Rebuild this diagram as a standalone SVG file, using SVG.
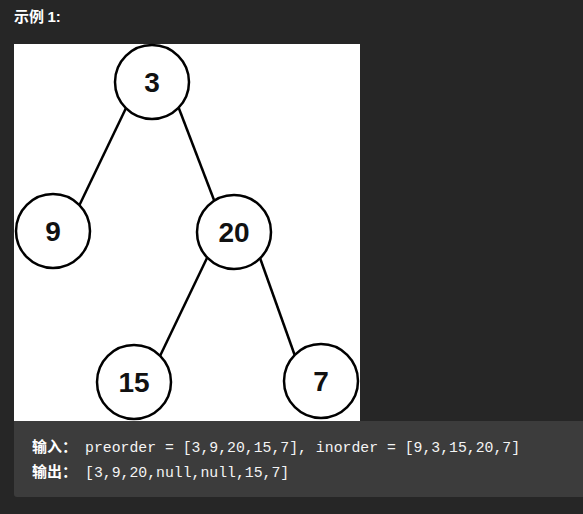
<svg xmlns="http://www.w3.org/2000/svg" width="583" height="514" viewBox="0 0 583 514">
<style>
.edge{stroke:#000;stroke-width:2.5;fill:none}
.node circle{fill:#fff;stroke:#000;stroke-width:2.5}
.node text{font-family:"Liberation Sans",Arial,sans-serif;font-weight:bold;font-size:28px;fill:#111;text-anchor:middle}
.code{font-family:"Liberation Mono","DejaVu Sans Mono",monospace;font-size:14.8px;fill:#f4f4f4}
.lbl{font-family:"Noto Sans CJK SC",sans-serif;font-weight:bold;font-size:15px;fill:#fff}
</style>
<rect width="583" height="514" fill="#262626"/>
<text x="14" y="22" class="lbl" font-size="15">示例 <tspan font-family="Liberation Sans, sans-serif">1:</tspan></text>
<rect x="14" y="44" width="346" height="377" fill="#fff"/>
<g id="connectors">
<line class="edge" x1="127" y1="106" x2="79" y2="206"/>
<line class="edge" x1="178" y1="106" x2="214" y2="200"/>
<line class="edge" x1="207" y1="258" x2="160" y2="356"/>
<line class="edge" x1="260" y1="258" x2="295" y2="356"/>
</g>
<g id="n3" class="node"><circle cx="152" cy="82" r="37"/><text x="152" y="92">3</text></g>
<g id="n9" class="node"><circle cx="53" cy="231" r="37"/><text x="53" y="241">9</text></g>
<g id="n20" class="node"><circle cx="234" cy="232" r="37"/><text x="234" y="242">20</text></g>
<g id="n15" class="node"><circle cx="134" cy="382" r="37"/><text x="134" y="392">15</text></g>
<g id="n7" class="node"><circle cx="321" cy="381" r="37"/><text x="321" y="391">7</text></g>
<path d="M14 421H583V497H17Q14 497 14 494Z" fill="#3c3c3c"/>
<text x="32" y="452" class="lbl">输入：</text>
<text x="85" y="452" class="code">preorder = [3,9,20,15,7], inorder = [9,3,15,20,7]</text>
<text x="32" y="477" class="lbl">输出：</text>
<text x="85" y="477" class="code">[3,9,20,null,null,15,7]</text>
</svg>
